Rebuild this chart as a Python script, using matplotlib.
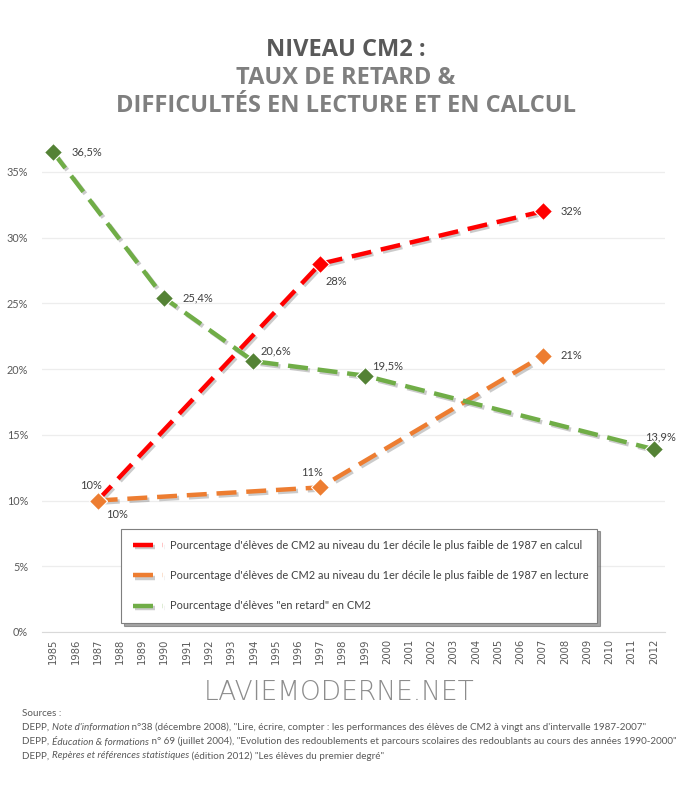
import matplotlib
matplotlib.use("Agg")
import matplotlib.pyplot as plt
import matplotlib.patheffects as pe
from matplotlib.ticker import FuncFormatter

years = list(range(1985, 2013))

calc_years = [1987, 1997, 2007]
calc_vals = [10, 28, 32]
lect_years = [1987, 1997, 2007]
lect_vals = [10, 11, 21]
ret_years = [1985, 1990, 1994, 1999, 2012]
ret_vals = [36.5, 25.4, 20.6, 19.5, 13.9]

calc_lbl = ["10%", "28%", "32%"]
lect_lbl = ["10%", "11%", "21%"]
ret_lbl = ["36,5%", "25,4%", "20,6%", "19,5%", "13,9%"]

leg_labels = [
    "Pourcentage d'élèves de CM2 au niveau du 1er décile le plus faible de 1987 en calcul",
    "Pourcentage d'élèves de CM2 au niveau du 1er décile le plus faible de 1987 en lecture",
    'Pourcentage d\'élèves "en retard" en CM2',
]

plt.rcParams['font.family'] = ['Lato', 'DejaVu Sans']
txt = "#595959"

fig = plt.figure(figsize=(6.92, 7.87), dpi=100)
ax = fig.add_axes([42/692, 1-632/787, 623/692, (632-139)/787])

shadow = [pe.SimpleLineShadow(offset=(1.5, -1.5), alpha=0.3, shadow_color="#555555"), pe.Normal()]
dash = (4.5, 2.2)

series = [
    (calc_years, calc_vals, "#FF0000", "#FF0000", leg_labels[0]),
    (lect_years, lect_vals, "#ED7D31", "#ED7D31", leg_labels[1]),
    (ret_years, ret_vals, "#70AD47", "#548235", leg_labels[2]),
]
for xs, ys, lc, mc, lab in series:
    ax.plot(xs, ys, color=lc, lw=3.2, dashes=dash, path_effects=shadow, label=lab, zorder=3,
            dash_capstyle="butt")
    ax.plot(xs, ys, ls="none", marker="D", ms=9, mfc=mc, mec="white", mew=0.8, zorder=4)

def lab(xs, ys, labels, offs):
    for x, y, s, (dx, dy) in zip(xs, ys, labels, offs):
        ax.annotate(s, (x, y), xytext=(dx, dy), textcoords="offset points",
                    fontsize=8, color="#404040", ha="center", va="center")

lab(calc_years, calc_vals, calc_lbl, [(-5, 10.5), (12, -13), (21, 0)])
lab(lect_years, lect_vals, lect_lbl, [(14, -10), (-6, 11), (21, 0)])
lab(ret_years, ret_vals, ret_lbl, [(24, 0), (24, 0), (16, 7.5), (16.5, 7), (5, 9)])

ax.set_xlim(1984.5, 2012.5)
ax.set_ylim(0, 37.5)
ax.set_xticks(years)
ax.set_xticklabels([str(y) for y in years], rotation=90, fontsize=7.2, color=txt,
                   family=["DejaVu Sans"])
ax.set_yticks(range(0, 40, 5))
ax.yaxis.set_major_formatter(FuncFormatter(lambda v, p: f"{int(v)}%"))
ax.tick_params(axis="y", labelsize=7.8, labelcolor=txt, length=0, pad=10)
ax.tick_params(axis="x", length=0, pad=5)
ax.grid(axis="y", color="#EDEDED", lw=0.9)
ax.set_axisbelow(True)
for s in ["top", "right", "left"]:
    ax.spines[s].set_visible(False)
ax.spines["bottom"].set_color("#D9D9D9")

leg = ax.legend(loc="lower left", bbox_to_anchor=(121/692, 1-623/787, 476/692, 92/787),
                bbox_transform=fig.transFigure, mode="expand", fontsize=7.9, frameon=True,
                fancybox=False, shadow=True, edgecolor="#7F7F7F", labelspacing=1.75,
                handlelength=2.8, handletextpad=0.6, borderpad=1.05, borderaxespad=0,
                labelcolor="#404040")
leg.get_frame().set_linewidth(0.8)

fig.text(0.5, 1-50/787, "NIVEAU CM2 :", ha="center", va="center", fontsize=17,
         fontweight="bold", color="#595959", family="Open Sans")
fig.text(0.5, 1-78/787, "TAUX DE RETARD &", ha="center", va="center", fontsize=17,
         fontweight="bold", color="#7F7F7F", family="Open Sans")
fig.text(0.5, 1-106/787, "DIFFICULTÉS EN LECTURE ET EN CALCUL", ha="center", va="center",
         fontsize=17, fontweight="bold", color="#7F7F7F", family="Open Sans")

fig.text(339/692, 1-692/787, "LAVIEMODERNE.NET", ha="center", va="center", fontsize=19,
         fontweight=200, color="#8C8C8C", family="DejaVu Sans")

# sources, with italic parts
src_lines = [
    [("Sources :", "normal")],
    [("DEPP, ", "normal"), ("Note d'information", "italic"),
     (" n°38 (décembre 2008), \"Lire, écrire, compter : les performances des élèves de CM2 à vingt ans d'intervalle 1987-2007\"", "normal")],
    [("DEPP, ", "normal"), ("Éducation & formations", "italic"),
     (" n° 69 (juillet 2004), \"Evolution des redoublements et parcours scolaires des redoublants au cours des années 1990-2000\"", "normal")],
    [("DEPP, ", "normal"), ("Repères et références statistiques", "italic"),
     (" (édition 2012) \"Les élèves du premier degré\"", "normal")],
]
fig.canvas.draw()
r = fig.canvas.get_renderer()
for i, parts in enumerate(src_lines):
    x = 22
    y = 1 - (713 + i * 14.3) / 787
    for s, st in parts:
        t = fig.text(x/692, y, s, fontsize=7.1, style=st, color="#595959", va="center", ha="left")
        x += t.get_window_extent(r).width

fig.savefig("out.png", dpi=100)
